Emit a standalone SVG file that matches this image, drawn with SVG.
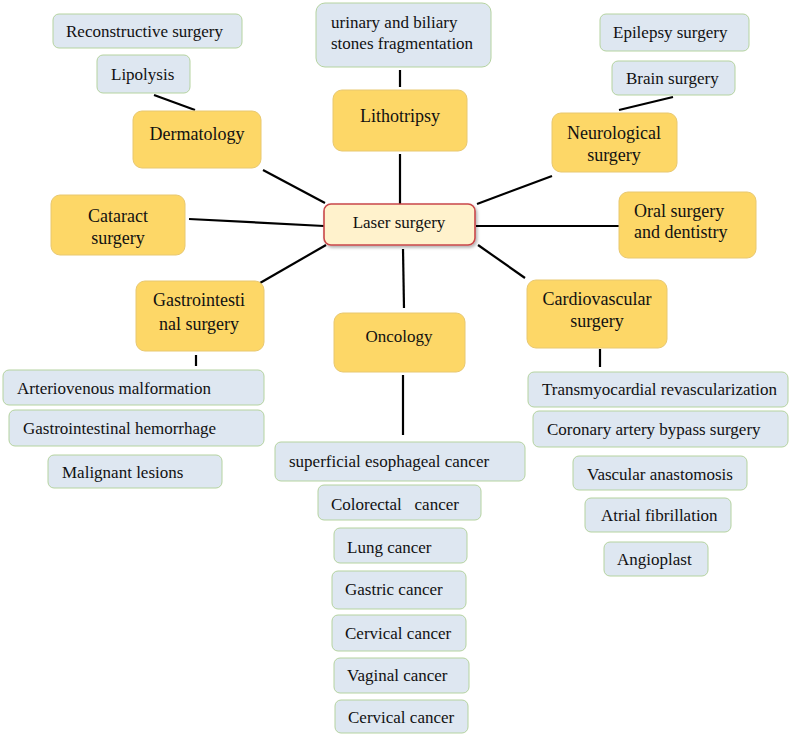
<svg xmlns="http://www.w3.org/2000/svg" width="792" height="743" viewBox="0 0 792 743">
<defs>
<style>
.leaf{fill:#dee7f1;stroke:#b5d3a0;stroke-width:1}
.cat{fill:#fdd767;stroke:#e8c870;stroke-width:1}
.ctr{fill:#fff2cc;stroke:#c9474a;stroke-width:1.6}
text{font-family:"Liberation Serif","Times New Roman",serif;fill:#111;font-size:17px}
.c{text-anchor:middle}
.big{font-size:18px}
.conn line{stroke:#000;stroke-width:2.2}
</style>
<filter id="sh" x="-10%" y="-20%" width="125%" height="150%"><feDropShadow dx="1.5" dy="2" stdDeviation="1.5" flood-color="#000" flood-opacity="0.3"/></filter>
</defs>
<rect width="792" height="743" fill="#fff"/>
<g class="conn">
<line x1="154" y1="95" x2="195" y2="110"/>
<line x1="400" y1="70" x2="400" y2="87"/>
<line x1="400" y1="154" x2="400" y2="204"/>
<line x1="619" y1="110" x2="673" y2="97"/>
<line x1="263" y1="170" x2="325" y2="203"/>
<line x1="189" y1="219" x2="324" y2="226"/>
<line x1="477" y1="204" x2="552" y2="176"/>
<line x1="476" y1="226" x2="619" y2="226"/>
<line x1="260" y1="283" x2="326" y2="245"/>
<line x1="403" y1="249" x2="404" y2="308"/>
<line x1="478" y1="245" x2="525" y2="278"/>
<line x1="196" y1="355" x2="196" y2="366"/>
<line x1="403" y1="375" x2="403" y2="435"/>
<line x1="600" y1="349" x2="600" y2="367"/>
</g>
<g id="center"><rect class="ctr" x="324" y="204" width="151" height="41" rx="7" filter="url(#sh)"/><text class="c" x="399" y="228">Laser surgery</text></g>
<g id="dermatology"><rect class="cat" x="133" y="111" width="128" height="57" rx="9"/><text class="c big" x="197" y="140">Dermatology</text></g>
<g id="lithotripsy"><rect class="cat" x="333" y="90" width="134" height="61" rx="9"/><text class="c big" x="400" y="122">Lithotripsy</text></g>
<g id="neuro"><rect class="cat" x="552" y="113" width="125" height="59" rx="9"/><text class="c big" x="614" y="139">Neurological</text><text class="c big" x="614" y="161">surgery</text></g>
<g id="cataract"><rect class="cat" x="51" y="195" width="134" height="60" rx="9"/><text class="c big" x="118" y="222">Cataract</text><text class="c big" x="118" y="244">surgery</text></g>
<g id="oral"><rect class="cat" x="619" y="192" width="137" height="66" rx="9"/><text class="big" x="634" y="217">Oral surgery</text><text class="big" x="634" y="238">and dentistry</text></g>
<g id="gastro"><rect class="cat" x="136" y="281" width="128" height="70" rx="9"/><text class="c big" x="199" y="306">Gastrointesti</text><text class="c big" x="199" y="330">nal surgery</text></g>
<g id="oncology"><rect class="cat" x="334" y="313" width="131" height="59" rx="9"/><text class="c" x="399" y="342">Oncology</text></g>
<g id="cardio"><rect class="cat" x="527" y="280" width="140" height="68" rx="9"/><text class="c big" x="597" y="305">Cardiovascular</text><text class="c big" x="597" y="327">surgery</text></g>
<g id="reconstructive"><rect class="leaf" x="53" y="14" width="189" height="34" rx="6"/><text x="66" y="37">Reconstructive surgery</text></g>
<g id="lipolysis"><rect class="leaf" x="97" y="55" width="93" height="38" rx="6"/><text x="111" y="80">Lipolysis</text></g>
<g id="urinary"><rect class="leaf" x="316" y="3" width="175" height="64" rx="9"/><text x="331" y="28">urinary and biliary</text><text x="331" y="49">stones fragmentation</text></g>
<g id="epilepsy"><rect class="leaf" x="600" y="14" width="149" height="37" rx="6"/><text x="613" y="38">Epilepsy surgery</text></g>
<g id="brain"><rect class="leaf" x="612" y="61" width="123" height="34" rx="6"/><text x="626" y="84">Brain surgery</text></g>
<g id="avm"><rect class="leaf" x="3" y="370" width="261" height="35" rx="6"/><text x="17" y="394">Arteriovenous malformation</text></g>
<g id="gih"><rect class="leaf" x="9" y="410" width="255" height="36" rx="6"/><text x="23" y="434">Gastrointestinal hemorrhage</text></g>
<g id="malignant"><rect class="leaf" x="48" y="455" width="174" height="33" rx="6"/><text x="62" y="478">Malignant lesions</text></g>
<g id="esophageal"><rect class="leaf" x="275" y="442" width="250" height="39" rx="6"/><text x="289" y="467">superficial esophageal cancer</text></g>
<g id="colorectal"><rect class="leaf" x="318" y="485" width="163" height="35" rx="6"/><text x="331" y="510" xml:space="preserve">Colorectal   cancer</text></g>
<g id="lung"><rect class="leaf" x="334" y="528" width="133" height="35" rx="6"/><text x="347" y="553">Lung cancer</text></g>
<g id="gastric"><rect class="leaf" x="332" y="571" width="134" height="38" rx="6"/><text x="345" y="595">Gastric cancer</text></g>
<g id="cervical1"><rect class="leaf" x="332" y="615" width="134" height="36" rx="6"/><text x="345" y="639">Cervical cancer</text></g>
<g id="vaginal"><rect class="leaf" x="334" y="658" width="135" height="35" rx="6"/><text x="347" y="681">Vaginal cancer</text></g>
<g id="cervical2"><rect class="leaf" x="335" y="700" width="133" height="33" rx="6"/><text x="348" y="723">Cervical cancer</text></g>
<g id="tmr"><rect class="leaf" x="528" y="372" width="260" height="35" rx="6"/><text x="542" y="395">Transmyocardial revascularization</text></g>
<g id="cabg"><rect class="leaf" x="533" y="411" width="255" height="36" rx="6"/><text x="547" y="435">Coronary artery bypass surgery</text></g>
<g id="vascular"><rect class="leaf" x="573" y="456" width="174" height="34" rx="6"/><text x="587" y="480">Vascular anastomosis</text></g>
<g id="atrial"><rect class="leaf" x="585" y="498" width="146" height="34" rx="6"/><text x="601" y="521">Atrial fibrillation</text></g>
<g id="angioplast"><rect class="leaf" x="604" y="542" width="104" height="34" rx="6"/><text x="617" y="565">Angioplast</text></g>
</svg>
